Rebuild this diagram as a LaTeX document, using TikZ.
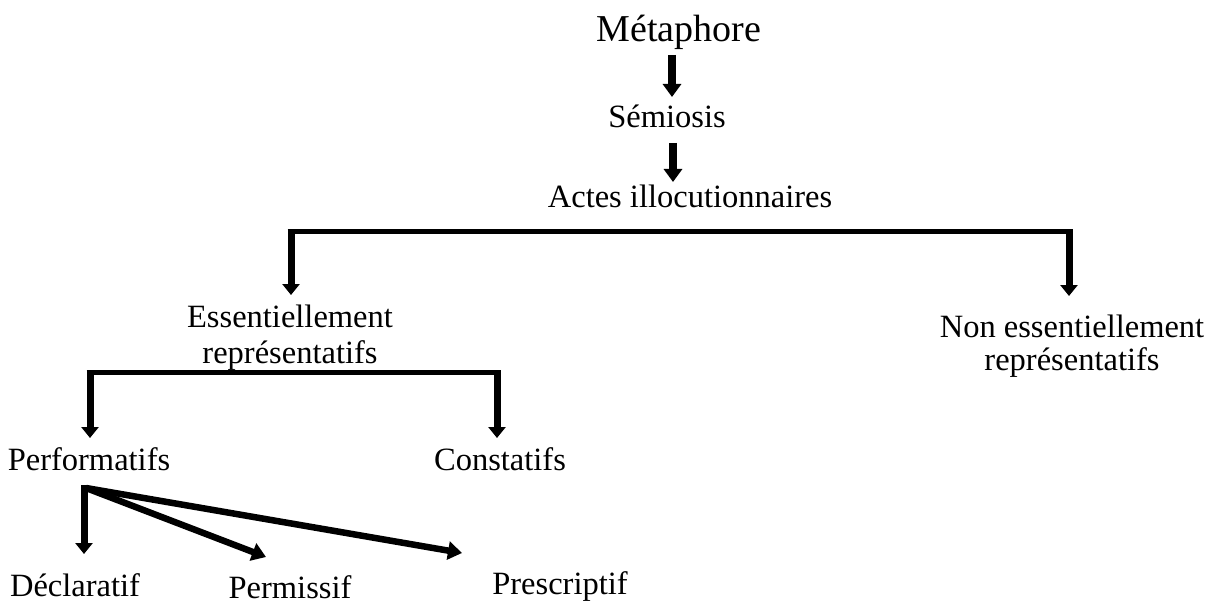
\documentclass[tikz,border=0pt]{standalone}
\usepackage{fontspec}
\setmainfont{Liberation Serif}
\usetikzlibrary{arrows.meta}
\begin{document}
\begin{tikzpicture}[x=1pt,y=-1pt,
  label/.style={inner sep=0pt,font=\fontsize{32.5}{36}\selectfont},
  twoline/.style={label,align=center},
  bigarrow/.style={line width=8pt,-{Triangle[width=18pt,length=13pt]}},
  midarrow/.style={line width=7pt,-{Triangle[width=17pt,length=11pt]}},
  slantarrow/.style={line width=6.5pt,line cap=butt,-{Triangle[width=18pt,length=14pt]}},
  barline/.style={line width=5pt,line cap=butt}]
\useasboundingbox (0,0) rectangle (1213,604);

% labels
\node[label,anchor=base,font=\fontsize{38}{40}\selectfont] (meta) at (679,42) {Métaphore};
\node[label,anchor=base] (sem) at (667,128) {Sémiosis};
\node[label,anchor=base] (actes) at (690,208) {Actes illocutionnaires};
\node[twoline] (ess) at (290,338) {Essentiellement\\représentatifs};
\node[twoline,font=\fontsize{32.5}{33}\selectfont] (ness) at (1072,346) {Non essentiellement\\représentatifs};
\node[label,anchor=base] (perf) at (89,470) {Performatifs};
\node[label,anchor=base] (const) at (500,470) {Constatifs};
\node[label,anchor=base] (decl) at (75,596) {Déclaratif};
\node[label,anchor=base] (perm) at (290,598) {Permissif};
\node[label,anchor=base] (presc) at (560,594) {Prescriptif};

% chain at the top
\coordinate (m0) at (672,55);  \coordinate (m1) at (672,97);
\coordinate (s0) at (673,143); \coordinate (s1) at (673,182);
\draw[bigarrow] (m0) -- (m1);
\draw[bigarrow] (s0) -- (s1);

% first fork
\coordinate (b1l) at (291,232); \coordinate (b1r) at (1069,232);
\coordinate (t1l) at (291,295); \coordinate (t1r) at (1069,296);
\draw[barline] ([xshift=-3.5pt]b1l) -- ([xshift=3.5pt]b1r);
\draw[midarrow] ([yshift=-2.5pt]b1l) -- (t1l);
\draw[midarrow] ([yshift=-2.5pt]b1r) -- (t1r);

% second fork
\coordinate (b2l) at (90,372); \coordinate (b2r) at (497,372);
\coordinate (t2l) at (90,438); \coordinate (t2r) at (497,438);
\draw[barline] ([xshift=-3.5pt]b2l) -- ([xshift=3.5pt]b2r);
\draw[midarrow] ([yshift=-2.5pt]b2l) -- (t2l);
\draw[midarrow] ([yshift=-2.5pt]b2r) -- (t2r);

% branches below Performatifs
\coordinate (p0) at (86,488);
\coordinate (pd) at (84,554);
\coordinate (pp) at (266,557);
\coordinate (ps) at (462,553);
\draw[midarrow] (84,485) -- (pd);
\draw[slantarrow] (p0) -- (pp);
\draw[slantarrow] (p0) -- (ps);
\end{tikzpicture}
\end{document}
